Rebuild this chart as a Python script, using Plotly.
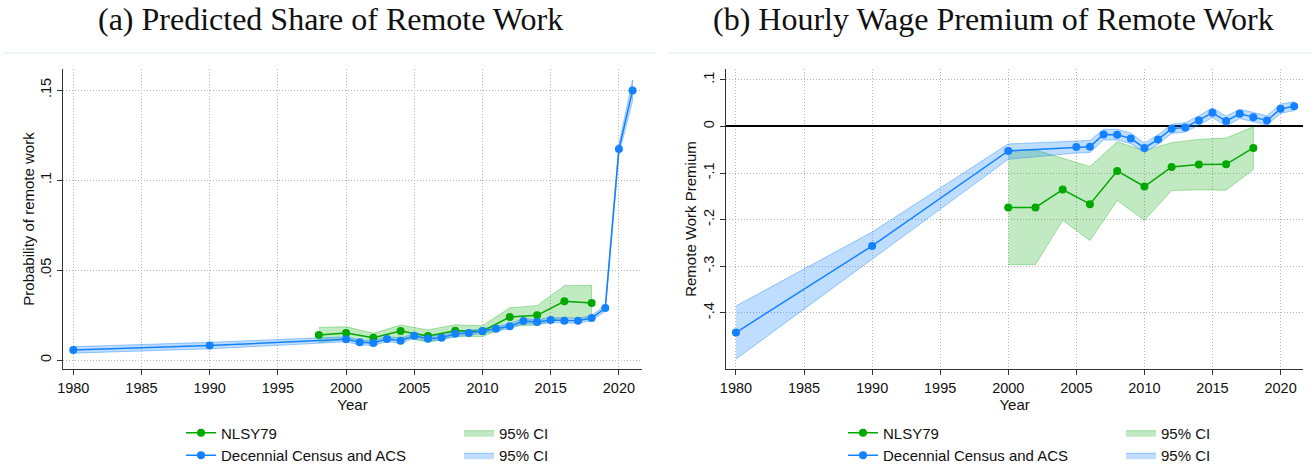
import plotly.graph_objects as go

# ---------------- Data ----------------
# Panel (a): predicted share of remote work
years_census = [1980, 1990, 2000, 2001, 2002, 2003, 2004, 2005, 2006, 2007, 2008, 2009,
                2010, 2011, 2012, 2013, 2014, 2015, 2016, 2017, 2018, 2019, 2020, 2021]
share_census = [0.0056, 0.0080, 0.0115, 0.0098, 0.0094, 0.0117, 0.0107, 0.0135, 0.0118, 0.0124,
                0.0146, 0.0150, 0.0161, 0.0174, 0.0187, 0.0217, 0.0211, 0.0222, 0.0218, 0.0218,
                0.0233, 0.0289, 0.1172, 0.1498]
share_census_lo = [0.0038, 0.0062, 0.0101, 0.0084, 0.0080, 0.0103, 0.0093, 0.0121, 0.0104, 0.0110,
                   0.0132, 0.0136, 0.0147, 0.0160, 0.0173, 0.0203, 0.0197, 0.0208, 0.0204, 0.0204,
                   0.0219, 0.0271, 0.1144, 0.1440]
share_census_hi = [0.0074, 0.0098, 0.0129, 0.0112, 0.0108, 0.0131, 0.0121, 0.0149, 0.0132, 0.0138,
                   0.0160, 0.0164, 0.0175, 0.0188, 0.0201, 0.0231, 0.0225, 0.0236, 0.0232, 0.0232,
                   0.0247, 0.0307, 0.1200, 0.1556]

years_nlsy = [1998, 2000, 2002, 2004, 2006, 2008, 2010, 2012, 2014, 2016, 2018]
share_nlsy = [0.0139, 0.0150, 0.0124, 0.0161, 0.0133, 0.0163, 0.0160, 0.0239, 0.0248, 0.0326, 0.0317]
share_nlsy_lo = [0.0097, 0.0115, 0.0100, 0.0128, 0.0099, 0.0130, 0.0130, 0.0188, 0.0194, 0.0239, 0.0219]
share_nlsy_hi = [0.0181, 0.0185, 0.0148, 0.0194, 0.0167, 0.0196, 0.0190, 0.0290, 0.0302, 0.0413, 0.0415]

# Panel (b): hourly wage premium of remote work
years_census_w = [1980, 1990, 2000, 2005, 2006, 2007, 2008, 2009, 2010, 2011, 2012, 2013,
                  2014, 2015, 2016, 2017, 2018, 2019, 2020, 2021]
prem_census = [-0.4423, -0.2564, -0.0526, -0.0440, -0.0434, -0.0171, -0.0177, -0.0256, -0.0462,
               -0.0278, -0.0049, -0.0020, 0.0128, 0.0293, 0.0115, 0.0271, 0.0200, 0.0128, 0.0378, 0.0436]
prem_census_lo = [-0.4992, -0.2855, -0.0705, -0.0570, -0.0560, -0.0290, -0.0290, -0.0370, -0.0560,
                  -0.0380, -0.0150, -0.0120, 0.0030, 0.0190, 0.0010, 0.0170, 0.0100, 0.0030, 0.0280, 0.0340]
prem_census_hi = [-0.3853, -0.2265, -0.0376, -0.0310, -0.0300, -0.0060, -0.0060, -0.0140, -0.0360,
                  -0.0180, 0.0050, 0.0080, 0.0230, 0.0400, 0.0220, 0.0370, 0.0300, 0.0230, 0.0480, 0.0530]

years_nlsy_w = [2000, 2002, 2004, 2006, 2008, 2010, 2012, 2014, 2016, 2018]
prem_nlsy = [-0.1737, -0.1737, -0.1353, -0.1667, -0.0954, -0.1289, -0.0869, -0.0819, -0.0812, -0.0462]
prem_nlsy_lo = [-0.2962, -0.2962, -0.2015, -0.2449, -0.1588, -0.2015, -0.1374, -0.1360, -0.1367, -0.0925]
prem_nlsy_hi = [-0.0505, -0.0505, -0.0683, -0.0861, -0.0327, -0.0520, -0.0348, -0.0278, -0.0249, -0.0006]

x_ticks = [1980, 1985, 1990, 1995, 2000, 2005, 2010, 2015, 2020]
y_ticks_a = [0, 0.05, 0.10, 0.15]
y_ticktext_a = ["0", ".05", ".1", ".15"]
y_ticks_b = [0.1, 0, -0.1, -0.2, -0.3, -0.4]
y_ticktext_b = [".1", "0", "-.1", "-.2", "-.3", "-.4"]

# ---------------- Styles ----------------
GREEN = "rgb(0,168,0)"
BLUE = "rgb(20,130,255)"
GREEN_FILL = "rgba(0,168,0,0.24)"
GREEN_EDGE = "rgba(0,168,0,0.32)"
BLUE_FILL = "rgba(20,130,255,0.27)"
BLUE_EDGE = "rgba(20,130,255,0.40)"
SANS = "Liberation Sans, Arial, sans-serif"
SERIF = "Liberation Serif, Times New Roman, serif"
GRID = "#b4b4b4"
GRID_DASH = "1px,2px"


def band_xy(x, lo, hi):
    return list(x) + list(x)[::-1], list(hi) + list(lo)[::-1]


fig = go.Figure()


def add_panel(xa, ya, yrs_n, m_n, lo_n, hi_n, yrs_c, m_c, lo_c, hi_c, leg_a, leg_b):
    bx, by = band_xy(yrs_n, lo_n, hi_n)
    fig.add_trace(go.Scatter(x=bx, y=by, xaxis=xa, yaxis=ya, fill="toself", mode="lines",
                             fillcolor=GREEN_FILL, line=dict(color=GREEN_EDGE, width=1),
                             name="95% CI", legend=leg_b, legendrank=1, hoverinfo="skip"))
    bx, by = band_xy(yrs_c, lo_c, hi_c)
    fig.add_trace(go.Scatter(x=bx, y=by, xaxis=xa, yaxis=ya, fill="toself", mode="lines",
                             fillcolor=BLUE_FILL, line=dict(color=BLUE_EDGE, width=1),
                             name="95% CI", legend=leg_b, legendrank=2, hoverinfo="skip"))
    fig.add_trace(go.Scatter(x=yrs_n, y=m_n, xaxis=xa, yaxis=ya, mode="lines+markers",
                             line=dict(color=GREEN, width=1.5), marker=dict(color=GREEN, size=8),
                             name="NLSY79", legend=leg_a, legendrank=1))
    fig.add_trace(go.Scatter(x=yrs_c, y=m_c, xaxis=xa, yaxis=ya, mode="lines+markers",
                             line=dict(color=BLUE, width=1.5), marker=dict(color=BLUE, size=8),
                             name="Decennial Census and ACS", legend=leg_a, legendrank=2))


add_panel("x", "y", years_nlsy, share_nlsy, share_nlsy_lo, share_nlsy_hi,
          years_census, share_census, share_census_lo, share_census_hi, "legend", "legend2")
add_panel("x2", "y2", years_nlsy_w, prem_nlsy, prem_nlsy_lo, prem_nlsy_hi,
          years_census_w, prem_census, prem_census_lo, prem_census_hi, "legend3", "legend4")

W, H = 1315, 464
ydom = [1 - 369 / H, 1 - 69 / H]

xcommon = dict(range=[1979.27, 2021.67], tickmode="array", tickvals=x_ticks,
               showgrid=True, gridcolor=GRID, griddash=GRID_DASH, gridwidth=1,
               showline=True, linecolor="#333333", linewidth=1.3, ticks="outside", ticklen=5,
               tickcolor="#333333", tickfont=dict(family=SANS, size=14.5, color="#111"),
               zeroline=False, automargin=False,
               title=dict(text="Year", font=dict(family=SANS, size=15, color="#111"), standoff=2))
ycommon = dict(tickmode="array", showgrid=True, gridcolor=GRID, griddash=GRID_DASH, gridwidth=1,
               showline=True, linecolor="#333333", linewidth=1.3, ticks="outside", ticklen=5,
               tickcolor="#333333", tickangle=-90,
               tickfont=dict(family=SANS, size=14.5, color="#111"), automargin=False, domain=ydom)

legend_common = dict(orientation="v", xanchor="left", yanchor="top", y=1 - 416.5 / H,
                     bgcolor="rgba(0,0,0,0)", borderwidth=0, tracegroupgap=0,
                     font=dict(family=SANS, size=15, color="#111"), traceorder="normal")

fig.update_layout(
    width=W, height=H,
    margin=dict(l=0, r=0, t=0, b=0, autoexpand=False),
    paper_bgcolor="white", plot_bgcolor="white",
    showlegend=True,
    xaxis=dict(xcommon, domain=[63.3 / W, 641.7 / W], anchor="y"),
    yaxis=dict(ycommon, range=[-0.005, 0.1617], tickvals=y_ticks_a, ticktext=y_ticktext_a,
               anchor="x", zeroline=False,
               title=dict(text="Probability of remote work",
                          font=dict(family=SANS, size=15, color="#111"), standoff=0)),
    xaxis2=dict(xcommon, domain=[726 / W, 1303.3 / W], anchor="y2"),
    yaxis2=dict(ycommon, range=[-0.5205, 0.1233], tickvals=y_ticks_b, ticktext=y_ticktext_b,
                anchor="x2", zeroline=True, zerolinecolor="black", zerolinewidth=1.6,
                title=dict(text="Remote Work Premium",
                           font=dict(family=SANS, size=15, color="#111"), standoff=0)),
    legend=dict(legend_common, x=181 / W),
    legend2=dict(legend_common, x=459 / W),
    legend3=dict(legend_common, x=843 / W),
    legend4=dict(legend_common, x=1121 / W),
    annotations=[
        dict(text="(a) Predicted Share of Remote Work", xref="paper", yref="paper",
             x=330 / W, y=1 - 19 / H, xanchor="center", yanchor="middle", showarrow=False,
             font=dict(family=SERIF, size=32, color="#111")),
        dict(text="(b) Hourly Wage Premium of Remote Work", xref="paper", yref="paper",
             x=993 / W, y=1 - 19 / H, xanchor="center", yanchor="middle", showarrow=False,
             font=dict(family=SERIF, size=32, color="#111")),
    ],
    shapes=[
        dict(type="line", xref="paper", yref="paper", x0=3 / W, x1=655 / W,
             y0=1 - 53 / H, y1=1 - 53 / H, line=dict(color="#e4eaec", width=1)),
        dict(type="line", xref="paper", yref="paper", x0=668 / W, x1=1312 / W,
             y0=1 - 53 / H, y1=1 - 53 / H, line=dict(color="#e4eaec", width=1)),
    ],
)

fig.write_html(
    "out.html",
    config={"responsive": False, "displayModeBar": False},
    post_script="document.documentElement.style.margin='0px';document.body.style.margin='0px';",
)
